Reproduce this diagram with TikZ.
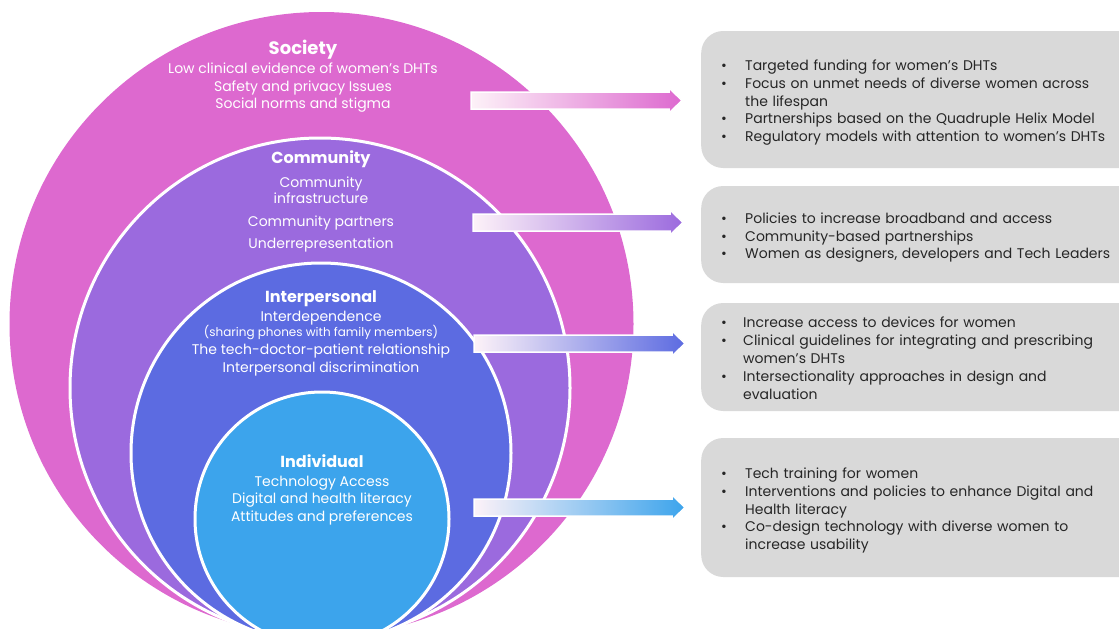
\documentclass[tikz,border=0pt]{standalone}
\usepackage{fontspec}
\setmainfont{Poppins}
\usetikzlibrary{calc}
\definecolor{societyc}{HTML}{DD69CF}
\definecolor{communityc}{HTML}{9B6ADE}
\definecolor{interc}{HTML}{5C6BE1}
\definecolor{indivc}{HTML}{3CA4EC}
\definecolor{boxc}{HTML}{D9D9D9}
\definecolor{txtc}{HTML}{262626}
\definecolor{arrowstart}{HTML}{FDF2F8}

% shaded block arrow from a start coordinate to a tip coordinate
\newcommand\flowarrow[3]{%
  \shade[left color=arrowstart, middle color=#3!55!white, right color=#3,
         draw=white, line width=1.5pt]
    ($(#1)+(0,-8.5)$) -- ($(#2)+(-13,-8.5)$) -- ($(#2)+(-13,-12.5)$) -- (#2)
    -- ($(#2)+(-13,12.5)$) -- ($(#2)+(-13,8.5)$) -- ($(#1)+(0,8.5)$) -- cycle;
}
\newcommand\bul{\textbullet}
% bullet list set a little below the panel's centre line
\newcommand\panellist[2]{%
  \raisebox{-3pt}[\height][\depth]{%
    \begin{tabular}{@{}p{#1}@{}l@{}}#2\end{tabular}}}

\begin{document}
\begin{tikzpicture}[x=1pt,y=-1pt,
  disc/.style={circle, inner sep=0pt, outer sep=0pt},
  ring/.style={disc, draw=white, line width=3pt},
  line/.style={text=white, inner sep=0pt, anchor=base, font=\fontsize{14}{17}\selectfont},
  small/.style={line, font=\fontsize{12}{14}\selectfont},
  title/.style={line, font=\fontsize{16}{19}\selectfont\bfseries},
  panel/.style={fill=boxc, rounded corners=22pt, anchor=west, inner xsep=20pt,
    inner ysep=0pt, text width=478pt, align=left, text=txtc,
    font=\fontsize{14}{17.8}\selectfont},
]
\useasboundingbox (0,0) rectangle (1119,629);
\clip (0,0) rectangle (1119,629);

% nested levels
\node[disc, fill=societyc, minimum size=624pt] (society) at (321.5,324) {};
\node[ring, fill=communityc, minimum size=500pt] (community) at (320,388) {};
\node[ring, fill=interc, minimum size=380pt] (interpersonal) at (321,453) {};
\node[ring, fill=indivc, minimum size=254pt] (individual) at (322,519) {};

% Society
\node[title, font=\fontsize{18}{21}\selectfont\bfseries] (t1) at (303,54) {Society};
\node[line] (s1) at (303,73) {Low clinical evidence of women’s DHTs};
\node[line] (s2) at (303,91) {Safety and privacy Issues};
\node[line] (s3) at (303,108) {Social norms and stigma};

% Community
\node[title] (t2) at (321,163) {Community};
\node[line] (c1) at (321,187) {Community};
\node[line] (c2) at (321,203) {infrastructure};
\node[line] (c3) at (321,226) {Community partners};
\node[line] (c4) at (321,248) {Underrepresentation};

% Interpersonal
\node[title] (t3) at (321,302) {Interpersonal};
\node[line] (i1) at (321,321) {Interdependence};
\node[small] (i2) at (321,336) {(sharing phones with family members)};
\node[line] (i3) at (321,354) {The tech-doctor-patient relationship};
\node[line] (i4) at (321,372) {Interpersonal discrimination};

% Individual
\node[title] (t4) at (322,467) {Individual};
\node[line] (d1) at (322,486) {Technology Access};
\node[line] (d2) at (322,503) {Digital and health literacy};
\node[line] (d3) at (322,521) {Attitudes and preferences};

% recommendation panels
\node[panel, minimum height=137pt] (p1) at (701,99.5) {\panellist{24pt}{%
  \bul & Targeted funding for women’s DHTs\\
  \bul & Focus on unmet needs of diverse women across\\
       & the lifespan\\
  \bul & Partnerships based on the Quadruple Helix Model\\
  \bul & Regulatory models with attention to women’s DHTs}};
\node[panel, minimum height=97pt] (p2) at (701,234.5) {\panellist{24pt}{%
  \bul & Policies to increase broadband and access\\
  \bul & Community-based partnerships\\
  \bul & Women as designers, developers and Tech Leaders}};
\node[panel, minimum height=108pt] (p3) at (701,357) {\panellist{22pt}{%
  \bul & Increase access to devices for women\\
  \bul & Clinical guidelines for integrating and prescribing\\
       & women’s DHTs\\
  \bul & Intersectionality approaches in design and\\
       & evaluation}};
\node[panel, minimum height=139pt] (p4) at (701,507.5) {\panellist{24pt}{%
  \bul & Tech training for women\\
  \bul & Interventions and policies to enhance Digital and\\
       & Health literacy\\
  \bul & Co-design technology with diverse women to\\
       & increase usability}};

% arrows from each level to its panel
\coordinate (a1) at (471,100.5);
\coordinate (a2) at (473,222.5);
\coordinate (a3) at (474,343.5);
\coordinate (a4) at (474,507.5);
\coordinate (e1) at ($(p1.west |- a1)+(-19,0)$);
\coordinate (e2) at ($(p2.west |- a2)+(-18,0)$);
\coordinate (e3) at ($(p3.west |- a3)+(-16,0)$);
\coordinate (e4) at ($(p4.west |- a4)+(-16,0)$);
\flowarrow{a1}{e1}{societyc}
\flowarrow{a2}{e2}{communityc}
\flowarrow{a3}{e3}{interc}
\flowarrow{a4}{e4}{indivc}
\end{tikzpicture}
\end{document}
